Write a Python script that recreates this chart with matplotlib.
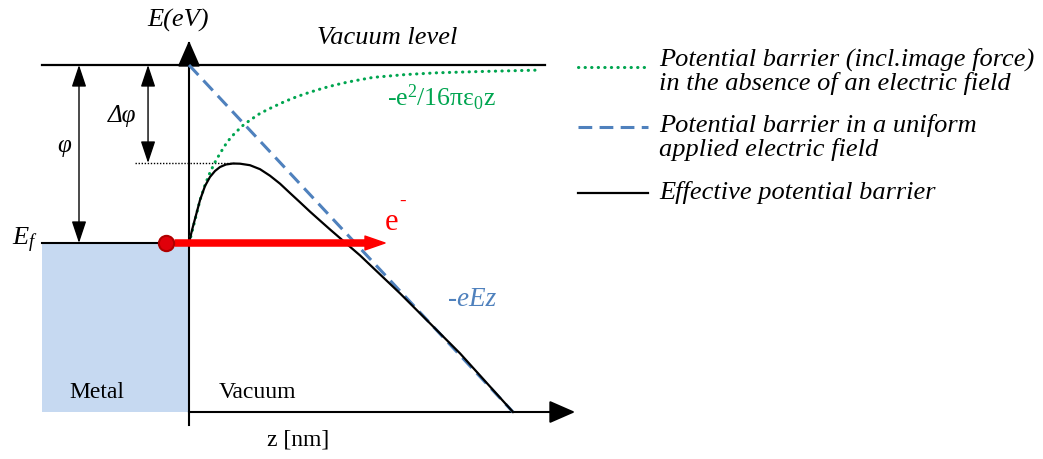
"""
Energy diagram of the Schottky effect at a metal/vacuum interface.
"""

import matplotlib.pyplot as plt
from matplotlib.patches import Rectangle

plt.rcParams["font.family"] = ["Liberation Serif", "DejaVu Serif"]
plt.rcParams["mathtext.fontset"] = "custom"
plt.rcParams["mathtext.rm"] = "Liberation Serif"
plt.rcParams["mathtext.it"] = "Liberation Serif:italic"

# energies in eV relative to the Fermi level, distances in nm
e_fermi = 0.0
e_vacuum = 4.45
e_peak = 2.0
e_bottom = -4.225
z_metal = -0.919
z_vac_end = 2.225
z_axis_end = 2.431

# uniform applied field -eEz
field_z = [0.0, 2.025]
field_e = [4.45, -4.225]

# image-force barrier -e^2/16*pi*eps0*z
image_z = [0.0, 0.006, 0.0375, 0.069, 0.1, 0.131, 0.1625, 0.194, 0.225, 0.256,
           0.2875, 0.3375, 0.381, 0.444, 0.519, 0.6, 0.675, 0.756, 0.8375,
           0.9125, 0.994, 1.081, 1.15, 1.35, 1.55, 1.85, 2.1625]
image_e = [0.0, 0.075, 0.575, 1.075, 1.45, 1.76, 2.02, 2.24, 2.44, 2.61,
           2.75, 2.94, 3.07, 3.24, 3.39, 3.54, 3.66, 3.77, 3.87,
           3.95, 4.025, 4.09, 4.14, 4.21, 4.255, 4.29, 4.32]

# effective barrier (image force + field)
eff_z = [0.0, 0.019, 0.044, 0.069, 0.1, 0.131, 0.1625, 0.194, 0.231, 0.275,
         0.319, 0.381, 0.444, 0.506, 0.569, 0.631, 0.694, 0.756, 0.819,
         0.881, 0.944, 1.006, 1.069, 1.319, 1.694, 2.025]
eff_e = [0.0, 0.325, 0.7, 1.075, 1.425, 1.65, 1.8, 1.9, 1.9625, 1.9875,
         1.9825, 1.945, 1.845, 1.6825, 1.4825, 1.25, 1.0175, 0.785, 0.56,
         0.34, 0.1225, -0.0925, -0.31, -1.26, -2.76, -4.225]

electron_z = -0.144
green = "#00a550"
blue = "#4f81bd"

fig = plt.figure(figsize=(10.43, 4.59), dpi=100)
ax = fig.add_axes([0, 0, 1, 1])
ax.set_xlim(-189 / 160, (1043 - 189) / 160)
ax.set_ylim((243 - 459) / 40, 243 / 40)
ax.axis("off")

# metal block and levels
ax.add_patch(Rectangle((z_metal, e_bottom), -z_metal, e_fermi - e_bottom,
                       facecolor="#c6d9f1", edgecolor="none", zorder=1))
ax.plot([z_metal, 0], [e_fermi, e_fermi], color="black", lw=1.5, zorder=3)
ax.plot([z_metal, z_vac_end], [e_vacuum, e_vacuum], color="black", lw=1.6, zorder=3)

# axes with arrow heads
ax.plot([0, 0], [-4.55, 5.0], color="black", lw=1.5, zorder=3)
ax.annotate("", xy=(0, 5.125), xytext=(0, 4.7),
            arrowprops=dict(arrowstyle="-|>,head_length=0.8,head_width=0.35",
                            color="black", lw=1.5, mutation_scale=20))
ax.plot([0, z_axis_end - 0.1], [e_bottom, e_bottom], color="black", lw=1.5, zorder=3)
ax.annotate("", xy=(z_axis_end, e_bottom), xytext=(z_axis_end - 0.15, e_bottom),
            arrowprops=dict(arrowstyle="-|>,head_length=0.8,head_width=0.35",
                            color="black", lw=1.5, mutation_scale=20))

# barrier curves
ax.plot(field_z, field_e, color=blue, lw=2.2, ls=(0, (4.5, 2.4)), zorder=4)
ax.plot(image_z, image_e, color=green, lw=2.2, ls=(0, (0.1, 2.05)),
        dash_capstyle="round", zorder=4)
ax.plot(eff_z, eff_e, color="black", lw=1.6, zorder=5)

# barrier lowering guide
ax.plot([-0.3375, 0.28], [e_peak, e_peak], color="black", lw=1.0,
        ls=(0, (1, 1.2)), zorder=3)

# phi and delta-phi
dbl = dict(arrowstyle="<|-|>,head_length=0.9,head_width=0.3", color="black",
           lw=1.0, mutation_scale=15, shrinkA=0, shrinkB=0)
ax.annotate("", xy=(-0.6875, e_fermi), xytext=(-0.6875, e_vacuum), arrowprops=dbl)
ax.annotate("", xy=(-0.256, e_peak), xytext=(-0.256, e_vacuum), arrowprops=dbl)

# emitted electron
ax.annotate("", xy=(1.225, e_fermi), xytext=(-0.0875, e_fermi),
            arrowprops=dict(arrowstyle="simple,head_length=0.72,head_width=0.5,tail_width=0.22",
                            color="red", mutation_scale=20, shrinkA=0, shrinkB=0),
            zorder=6)
ax.plot([electron_z], [e_fermi], "o", ms=11, mfc="#e0000a", mec="#b00000",
        mew=1.5, zorder=7)

# labels
ax.text(-0.069, 5.575, "E(eV)", style="italic", fontsize=19, ha="center", va="center")
ax.text(1.2375, 5.125, "Vacuum level", style="italic", fontsize=19,
        ha="center", va="center")
ax.text(1.2375, 3.625, "-e$^2$/16πε$_0$z", color=green, fontsize=18.5,
        ha="left", va="center")
ax.text(1.225, 0.5, "e", color="red", fontsize=22, ha="left", va="center")
ax.text(1.3125, 1.05, "-", color="red", fontsize=14, ha="left", va="center")
ax.text(1.769, -1.425, "-eEz", color=blue, style="italic", fontsize=19.5,
        ha="center", va="center")
ax.text(-1.025, 0.075, "$E_f$", fontsize=19, ha="center", va="center")
ax.text(-0.78, 2.425, "φ", style="italic", fontsize=18, ha="center", va="center")
ax.text(-0.419, 3.175, "Δφ", style="italic", fontsize=18, ha="center", va="center")
ax.text(-0.575, -3.725, "Metal", fontsize=17, ha="center", va="center")
ax.text(0.431, -3.725, "Vacuum", fontsize=17, ha="center", va="center")
ax.text(0.681, -4.925, "z [nm]", fontsize=17, ha="center", va="center")

# legend
legend_items = [
    ((0, (0.1, 2.05)), green, 2.2, 4.4, 4.3,
     "Potential barrier (incl.image force)\nin the absence of an electric field"),
    ((0, (4.5, 2.4)), blue, 2.2, 2.9, 2.64,
     "Potential barrier in a uniform\napplied electric field"),
    ("-", "black", 1.6, 1.25, 1.25, "Effective potential barrier"),
]
for ls, color, lw, y_line, y_text, label in legend_items:
    ax.plot([2.431, 2.869], [y_line, y_line], color=color, lw=lw, ls=ls,
            dash_capstyle="round" if color == green else "butt")
    ax.text(2.9375, y_text, label, style="italic", fontsize=19, ha="left",
            va="center", linespacing=1.05)

fig.savefig("out.png", dpi=100)
